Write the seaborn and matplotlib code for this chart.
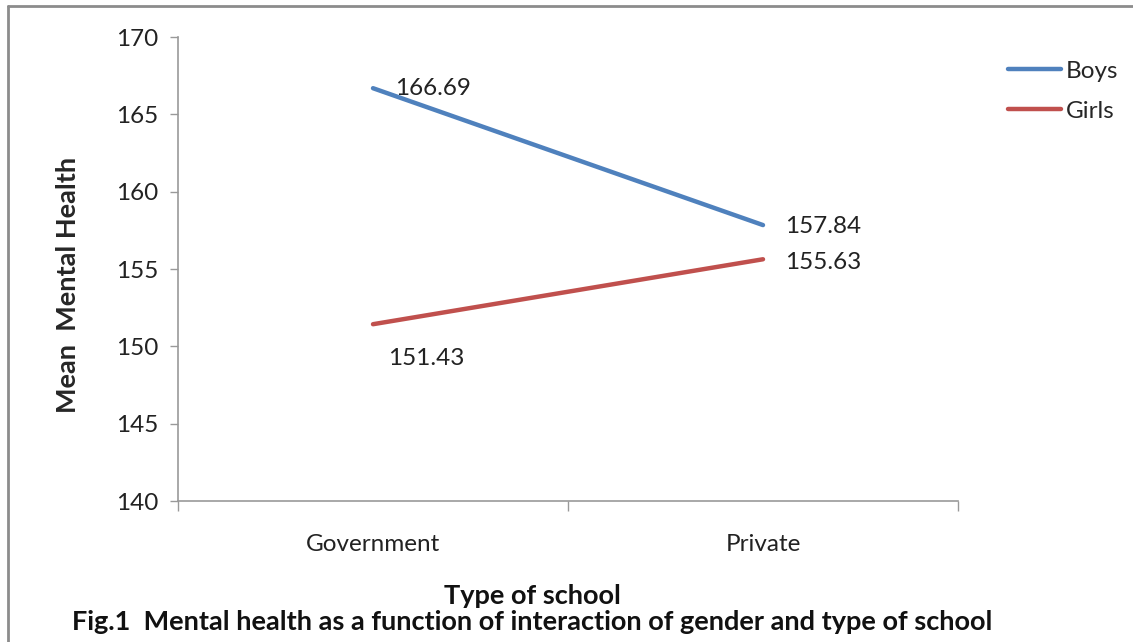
import matplotlib
matplotlib.use("Agg")
import matplotlib.pyplot as plt
from matplotlib.lines import Line2D
import seaborn as sns
import pandas as pd

# Mean mental health scores by school type and gender
school_types = ["Government", "Private"]
boys = [166.69, 157.84]
girls = [151.43, 155.63]
genders = ["Boys", "Girls"]
y_ticks = [140, 145, 150, 155, 160, 165, 170]

df = pd.DataFrame({
    "school": school_types * 2,
    "score": boys + girls,
    "gender": [genders[0]] * 2 + [genders[1]] * 2,
})

sns.set_style("white")
plt.rcParams["font.family"] = ["Lato", "DejaVu Sans"]

W, H = 1133, 642
fig = plt.figure(figsize=(W / 100, H / 100), dpi=100)
ax = fig.add_axes([178 / W, 1 - 501 / H, (958 - 178) / W, (501 - 37) / H])

palette = {"Boys": "#4F81BD", "Girls": "#C0504D"}
sns.lineplot(data=df, x="school", y="score", hue="gender", palette=palette,
             linewidth=3.2, ax=ax, legend=False, sort=False)

ax.set_ylim(140, 170)
ax.set_xlim(-0.5, 1.5)
ax.set_yticks(y_ticks)
ax.tick_params(axis="y", labelsize=17.5, length=6, width=1, color="#999999",
               direction="out", left=True, pad=8, labelcolor="#222222")

# category boundaries carry the tick marks, category centres carry the labels
ax.set_xticks([-0.5, 0.5, 1.5])
ax.set_xticklabels([])
ax.tick_params(axis="x", which="major", length=7, width=1, color="#999999",
               direction="out", bottom=True)
ax.set_xticks([0, 1], minor=True)
ax.set_xticklabels(school_types, minor=True)
ax.tick_params(axis="x", which="minor", length=0, labelsize=17.5, pad=24,
               labelcolor="#222222")

for side in ["top", "right"]:
    ax.spines[side].set_visible(False)
for side in ["left", "bottom"]:
    ax.spines[side].set_color("#999999")
    ax.spines[side].set_linewidth(1.2)

ax.set_ylabel("Mean  Mental Health", fontsize=19.5, fontweight="bold")
ax.yaxis.set_label_coords(-0.126, 0.466)
ax.set_xlabel("")

# value labels next to each point
offsets = {
    ("Boys", 0): (16, 0, "left"),
    ("Boys", 1): (16, -1, "left"),
    ("Girls", 0): (11, -25, "left"),
    ("Girls", 1): (16, -2, "left"),
}
for gname, vals in zip(genders, [boys, girls]):
    for i, v in enumerate(vals):
        dx, dy, ha = offsets[(gname, i)]
        ax.annotate(f"{v:.2f}", (i, v), xytext=(dx, dy), textcoords="offset points",
                    ha=ha, va="center", fontsize=17.5, color="#222222")

# legend
handles = [Line2D([0], [0], color=palette[g], lw=3.2) for g in genders]
fig.legend(handles, genders, loc="upper left", bbox_to_anchor=(998 / W, 1 - 51 / H),
           frameon=False, fontsize=17.5, handlelength=2.2, handletextpad=0.2,
           labelspacing=0.78, borderaxespad=0)

fig.text(532 / W, 1 - 596 / H, "Type of school", ha="center", va="center",
         fontsize=19.5, fontweight="bold", color="#111111")
fig.text(532 / W, 1 - 622 / H,
         "Fig.1  Mental health as a function of interaction of gender and type of school",
         ha="center", va="center", fontsize=19.5, fontweight="bold", color="#111111")

# chart area border (left and top edges visible)
fig.add_artist(Line2D([8 / W, 8 / W], [0, 1 - 6 / H], transform=fig.transFigure,
                      color="#8c8c8c", lw=2))
fig.add_artist(Line2D([8 / W, 1], [1 - 6 / H, 1 - 6 / H], transform=fig.transFigure,
                      color="#8c8c8c", lw=2))

fig.savefig("out.png", dpi=100)
